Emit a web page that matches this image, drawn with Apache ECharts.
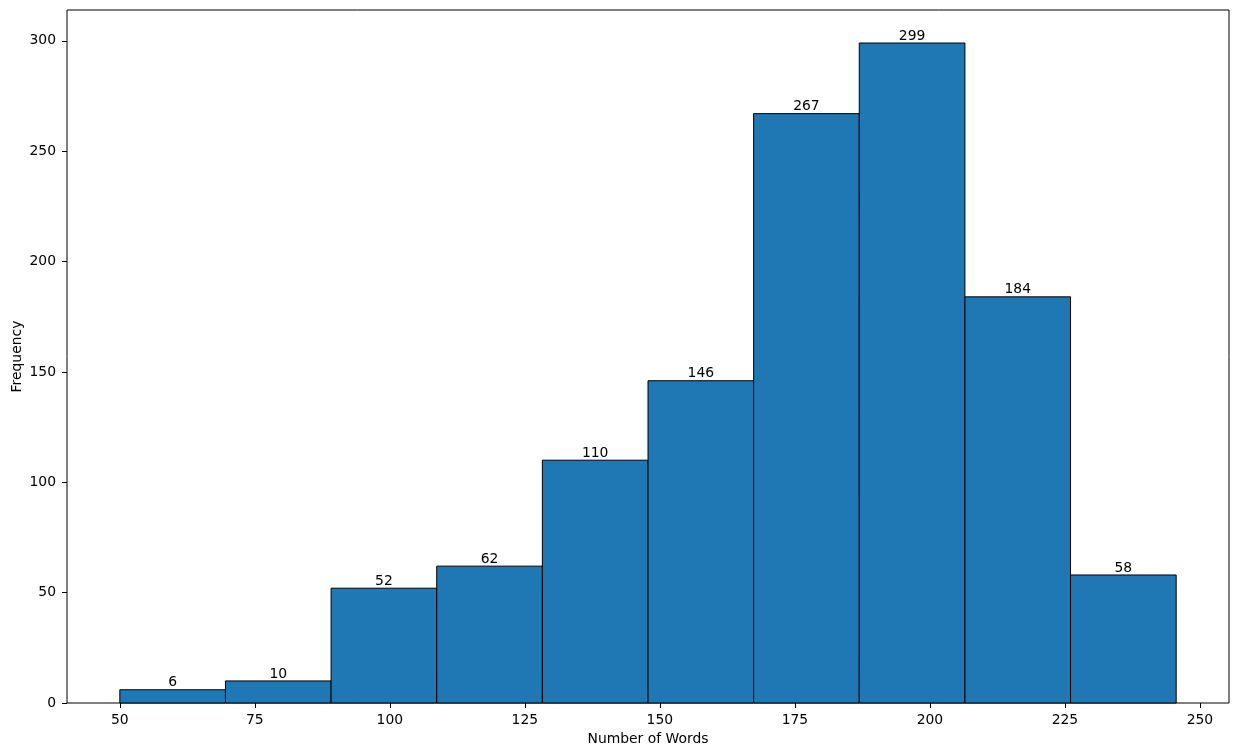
<!DOCTYPE html>
<html>
<head>
<meta charset="utf-8">
<script src="https://cdn.jsdelivr.net/npm/echarts@6/dist/echarts.min.js"></script>
<style>
html,body{margin:0;padding:0;background:#fff;}
#chart{width:1238px;height:756px;}
</style>
</head>
<body>
<div id="chart"></div>
<script>
// Histogram data
const binStart = 50;
const binWidth = 19.56;
const counts = [6, 10, 52, 62, 110, 146, 267, 299, 184, 58];
const xTicks = [50, 75, 100, 125, 150, 175, 200, 225, 250];
const yTicks = [0, 50, 100, 150, 200, 250, 300];
const xTitle = 'Number of Words';
const yTitle = 'Frequency';

const bins = counts.map((c, i) => [binStart + i * binWidth, binStart + (i + 1) * binWidth, c]);
const xSpan = binWidth * counts.length;
const xMin = binStart - 0.05 * xSpan;
const xMax = binStart + xSpan + 0.05 * xSpan;
const yMax = Math.max(...counts) * 1.05;

const FONT = 'DejaVu Sans';
const FS = 13.9;

const chart = echarts.init(document.getElementById('chart'), null, {renderer: 'canvas'});
chart.setOption({
  animation: false,
  backgroundColor: '#ffffff',
  grid: {left: 67, right: 9, top: 10, bottom: 53, outerBoundsMode: 'none', containLabel: false, show: true, borderColor: '#000', borderWidth: 1, backgroundColor: 'transparent'},
  xAxis: {
    type: 'value', min: xMin, max: xMax,
    name: xTitle, nameLocation: 'middle', nameGap: 29, nameMoveOverlap: false,
    nameTextStyle: {fontFamily: FONT, fontSize: FS, color: '#000'},
    axisLine: {show: false},
    axisTick: {show: true, length: 5, inside: false, customValues: xTicks, lineStyle: {color: '#000'}},
    axisLabel: {customValues: xTicks, fontFamily: FONT, fontSize: FS, color: '#000', margin: 10},
    splitLine: {show: false}
  },
  yAxis: {
    type: 'value', min: 0, max: yMax,
    name: yTitle, nameLocation: 'middle', nameGap: 43, nameMoveOverlap: false,
    nameTextStyle: {fontFamily: FONT, fontSize: FS, color: '#000'},
    axisLine: {show: false},
    axisTick: {show: true, length: 5, inside: false, customValues: yTicks, lineStyle: {color: '#000'}},
    axisLabel: {customValues: yTicks, fontFamily: FONT, fontSize: FS, color: '#000', margin: 11},
    splitLine: {show: false}
  },
  series: [{
    type: 'custom',
    data: bins,
    encode: {x: [0, 1], y: 2},
    renderItem: function (params, api) {
      const x0 = api.value(0), x1 = api.value(1), c = api.value(2);
      const p0 = api.coord([x0, c]);
      const p1 = api.coord([x1, 0]);
      return {
        type: 'group',
        children: [
          {
            type: 'rect',
            shape: {x: p0[0], y: p0[1], width: p1[0] - p0[0], height: p1[1] - p0[1]},
            style: {fill: '#1f77b4', stroke: '#000', lineWidth: 1}
          },
          {
            type: 'text',
            x: (p0[0] + p1[0]) / 2,
            y: p0[1],
            style: {text: String(c), fill: '#000', font: FS + 'px "' + FONT + '"', align: 'center', verticalAlign: 'bottom'}
          }
        ]
      };
    }
  }]
});
</script>
</body>
</html>
